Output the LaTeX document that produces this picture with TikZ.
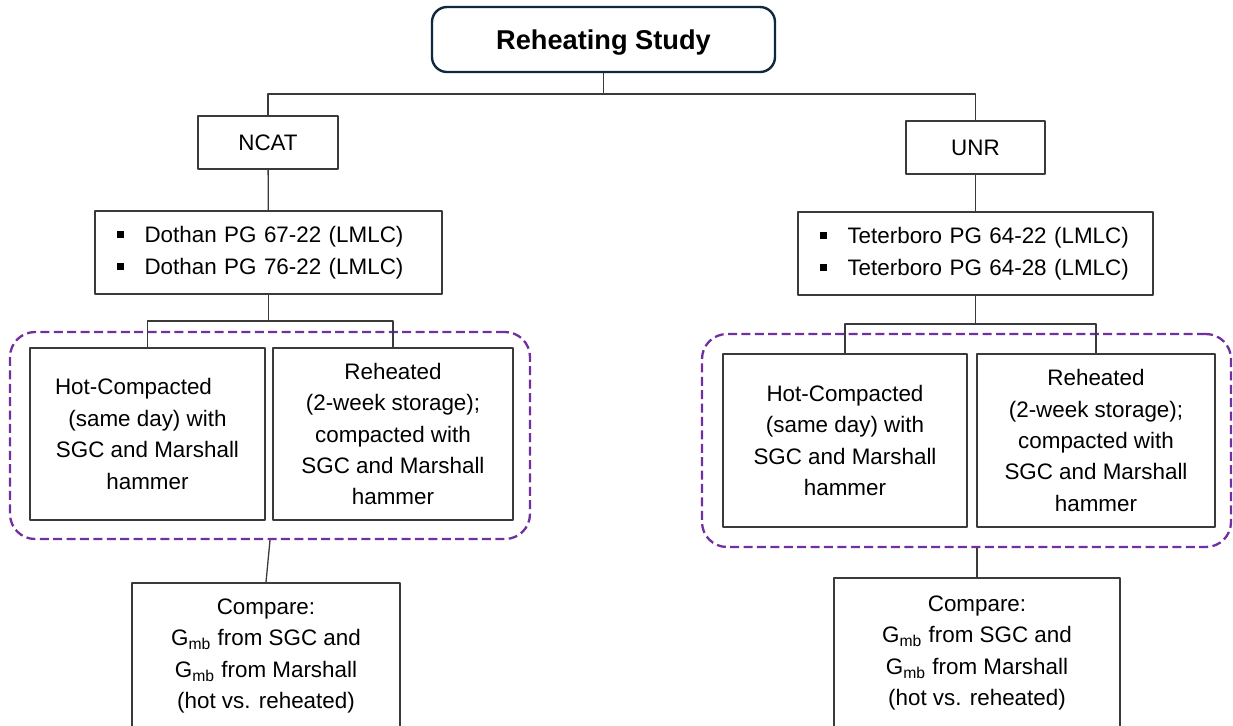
\documentclass[tikz,border=0pt]{standalone}
\usepackage{fontspec}
\setmainfont{Liberation Sans}
\definecolor{titleblue}{HTML}{0E2841}
\definecolor{grpurple}{HTML}{7030A0}
\definecolor{boxgray}{HTML}{3A3A3A}
\newcommand{\sqbul}{\makebox[13.75pt][l]{\rule[2.2pt]{3.5pt}{3.5pt}}}
\tikzset{
  box/.style={draw=boxgray, line width=0.75pt, align=center, inner sep=0pt},
  titlebox/.style={draw=titleblue, line width=1.2pt, rounded corners=7.5pt, inner sep=0pt,
    text depth=0pt, font=\fontsize{13.6}{16}\selectfont\bfseries},
  listbox/.style={box, align=left, inner xsep=11pt, inner ysep=0pt},
  group/.style={draw=grpurple, line width=1.15pt, dash pattern=on 4.5pt off 2.2pt,
    rounded corners=12.5pt, inner sep=0pt},
  link/.style={draw=boxgray, line width=0.65pt}
}
\begin{document}
\begin{tikzpicture}[x=0.5pt, y=-0.5pt, font=\fontsize{11.2}{15.7}\selectfont, line join=round]
\useasboundingbox (0,0) rectangle (1233,725);
% Tieu de
\node[titlebox, minimum width=171.5pt, minimum height=32.5pt] (study) at (603.5,39.5) {Reheating Study};
% Hai phong thi nghiem
\node[box, minimum width=70pt, minimum height=26.5pt] (ncat) at (268,142.5) {NCAT};
\node[box, minimum width=69.5pt, minimum height=26.5pt] (unr) at (975.5,147.5) {UNR};
% Danh sach hon hop
\node[listbox, minimum width=173.5pt, text width=151.5pt, minimum height=41.5pt] (mixL) at (268.5,252.5)
  {\sqbul Dothan PG 67-22 (LMLC)\\\sqbul Dothan PG 76-22 (LMLC)};
\node[listbox, minimum width=177.5pt, text width=155.5pt, minimum height=41.5pt] (mixR) at (975.5,253.5)
  {\sqbul Teterboro PG 64-22 (LMLC)\\\sqbul Teterboro PG 64-28 (LMLC)};
% Khung net dut
\node[group, minimum width=260pt, minimum height=103.5pt] (grpL) at (270,435.5) {};
\node[group, minimum width=264.5pt, minimum height=106.5pt] (grpR) at (966.5,440.5) {};
% Cach dam mau
\node[box, minimum width=117.5pt, minimum height=86pt] (hotL) at (147.5,434)
  {Hot-Compacted\rule{14pt}{0pt}\\(same day) with\\SGC and Marshall\\hammer};
\node[box, minimum width=120pt, minimum height=86pt] (rehL) at (393,434)
  {Reheated\\(2-week storage);\\compacted with\\SGC and Marshall\\hammer};
\node[box, minimum width=122pt, minimum height=86.5pt] (hotR) at (845,440.5)
  {Hot-Compacted\\(same day) with\\SGC and Marshall\\hammer};
\node[box, minimum width=119pt, minimum height=86.5pt] (rehR) at (1096,440.5)
  {Reheated\\(2-week storage);\\compacted with\\SGC and Marshall\\hammer};
% So sanh
\node[box, minimum width=134pt, minimum height=73pt] (cmpL) at (266,656)
  {Compare:\\G\textsubscript{mb} from SGC and\\G\textsubscript{mb} from Marshall\\(hot vs. reheated)};
\node[box, minimum width=143pt, minimum height=75pt] (cmpR) at (977,653)
  {Compare:\\G\textsubscript{mb} from SGC and\\G\textsubscript{mb} from Marshall\\(hot vs. reheated)};
% Diem re nhanh
\coordinate (split) at (603.5,94);
\coordinate (splitL) at (268.5,321);
\coordinate (splitR) at (975.5,324);
% Duong noi
\draw[link] (study) -- (split);
\draw[link] (ncat.north) |- (split) -| (unr.north);
\draw[link] (ncat) -- (mixL);
\draw[link] (unr) -- (mixR);
\draw[link] (mixL) -- (splitL);
\draw[link] (hotL.north) |- (splitL) -| (rehL.north);
\draw[link] (mixR) -- (splitR);
\draw[link] (hotR.north) |- (splitR) -| (rehR.north);
\draw[link] (grpL.south) -- (cmpL.north);
\draw[link] (grpR.south -| cmpR.north) -- (cmpR.north);
\end{tikzpicture}
\end{document}
